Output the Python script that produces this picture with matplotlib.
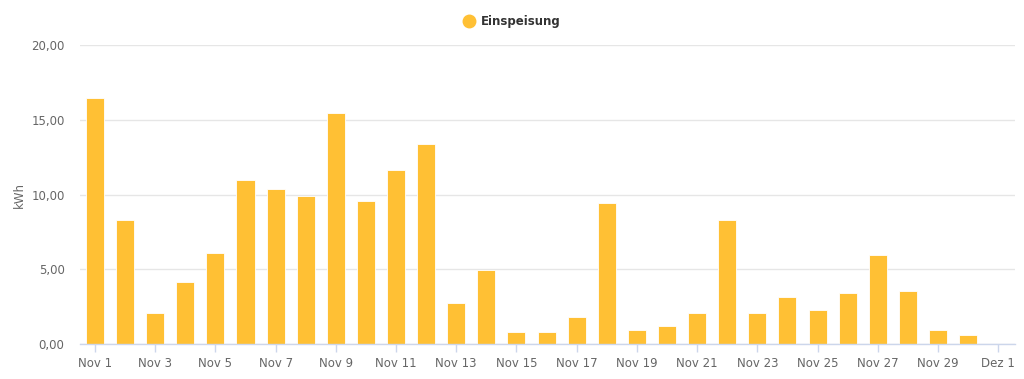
import matplotlib
matplotlib.use('Agg')
import matplotlib.pyplot as plt
from matplotlib.lines import Line2D

# daily feed-in, November
days = ['Nov %d' % d for d in range(1, 31)]
einspeisung = [16.45, 8.27, 2.10, 4.14, 6.10, 11.00, 10.38, 9.92, 15.45, 9.60,
               11.65, 13.40, 2.74, 4.97, 0.84, 0.84, 1.80, 9.47, 0.97, 1.24,
               2.05, 8.27, 2.05, 3.14, 2.25, 3.40, 5.97, 3.58, 0.97, 0.60]
tick_labels = ['Nov %d' % d for d in range(1, 31, 2)] + ['Dez 1']
y_ticks = [0, 5, 10, 15, 20]

bar_color = '#ffc034'
text_color = '#666666'

fig = plt.figure(figsize=(10.24, 3.79), dpi=100)
ax = fig.add_axes([0.078, 0.092, 0.913, 0.789])

x = list(range(len(einspeisung)))
ax.bar(x, einspeisung, width=0.6, color=bar_color, edgecolor='white', linewidth=0.6, zorder=3)

ax.set_xlim(-0.5, 30.55)
ax.set_ylim(0, 20)
ax.set_yticks(y_ticks)
ax.set_yticklabels(['%d,00' % v for v in y_ticks])
ax.set_xticks(list(range(0, 31, 2)))
ax.set_xticklabels(tick_labels)

ax.grid(axis='y', color='#e6e6e6', linewidth=1, zorder=0)
for s in ['top', 'right', 'left']:
    ax.spines[s].set_visible(False)
ax.spines['bottom'].set_color('#ccd6eb')
ax.spines['bottom'].set_linewidth(1)
ax.spines['bottom'].set_zorder(4)

ax.tick_params(axis='y', length=0, pad=11, labelsize=8.5, labelcolor=text_color)
ax.tick_params(axis='x', length=6, width=1, color='#ccd6eb', pad=3,
               labelsize=8.5, labelcolor=text_color)
ax.set_ylabel('kWh', fontsize=8.5, color=text_color, labelpad=4)

handle = Line2D([], [], marker='o', linestyle='', markersize=9,
                markerfacecolor=bar_color, markeredgecolor=bar_color)
leg = fig.legend([handle], ['Einspeisung'], loc='center', bbox_to_anchor=(0.5, 0.943),
                 frameon=False, handletextpad=0.5, handlelength=1.0,
                 prop={'weight': 'bold', 'size': 8.5})
for t in leg.get_texts():
    t.set_color('#333333')

fig.savefig('out.png', dpi=100)
